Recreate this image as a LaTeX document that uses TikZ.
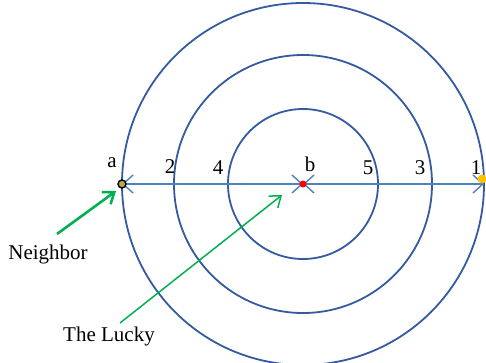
\documentclass[tikz,border=0pt]{standalone}
\usepackage{fontspec}
\setmainfont{Liberation Serif}
\usetikzlibrary{arrows.meta}
\definecolor{ringblue}{RGB}{52,90,160}
\definecolor{lineblue}{RGB}{79,129,189}
\definecolor{arrgreen}{RGB}{0,176,80}
\definecolor{dotorange}{RGB}{255,192,0}
\tikzset{
  ring/.style={draw=ringblue, line width=1.8pt},
  axis/.style={draw=lineblue, line width=1.4pt, {Straight Barb[length=10pt,width=18pt]}-{Straight Barb[length=10pt,width=18pt]}},
  lbl/.style={font=\fontsize{21}{24}\selectfont, inner sep=0pt},
  pointer/.style={draw=arrgreen, -{Straight Barb[length=10pt,width=15pt]}}
}
\begin{document}
\begin{tikzpicture}[x=1pt,y=-1pt]
\useasboundingbox (0,0) rectangle (486,362);
\clip (0,0) rectangle (486,362);
\coordinate (b) at (303,184);
\coordinate (a) at (122,184);
\coordinate (e) at (484,184);
\draw[ring] (b) circle[radius=181];
\draw[ring] (b) circle[radius=129];
\draw[ring] (b) circle[radius=75];
\draw[axis] (a) -- (b);
\draw[axis] (b) -- (e);
\fill[dotorange] (482,179) circle[radius=4.5];
\draw[black, line width=1.4pt, fill=dotorange!60!lineblue] (a) circle[radius=4];
\fill[red] (b) circle[radius=3.5];
\node[lbl] (la) at (112,163) {a};
\node[lbl] (l2) at (170,167) {2};
\node[lbl] (l4) at (218,168) {4};
\node[lbl] (lb) at (310,164) {b};
\node[lbl] (l5) at (368,168) {5};
\node[lbl] (l3) at (420,168) {3};
\node[lbl] (l1) at (476,168) {1};
\node[lbl] (nb) at (48,254) {Neighbor};
\node[lbl] (lk) at (109,336) {The Lucky};
\coordinate (ns) at (57,234);
\coordinate (nt) at (116,191);
\coordinate (ls) at (120,323);
\coordinate (lt) at (282,195);
\draw[pointer, line width=2.6pt] (ns) -- (nt);
\draw[pointer, line width=1.5pt] (ls) -- (lt);
\end{tikzpicture}
\end{document}
